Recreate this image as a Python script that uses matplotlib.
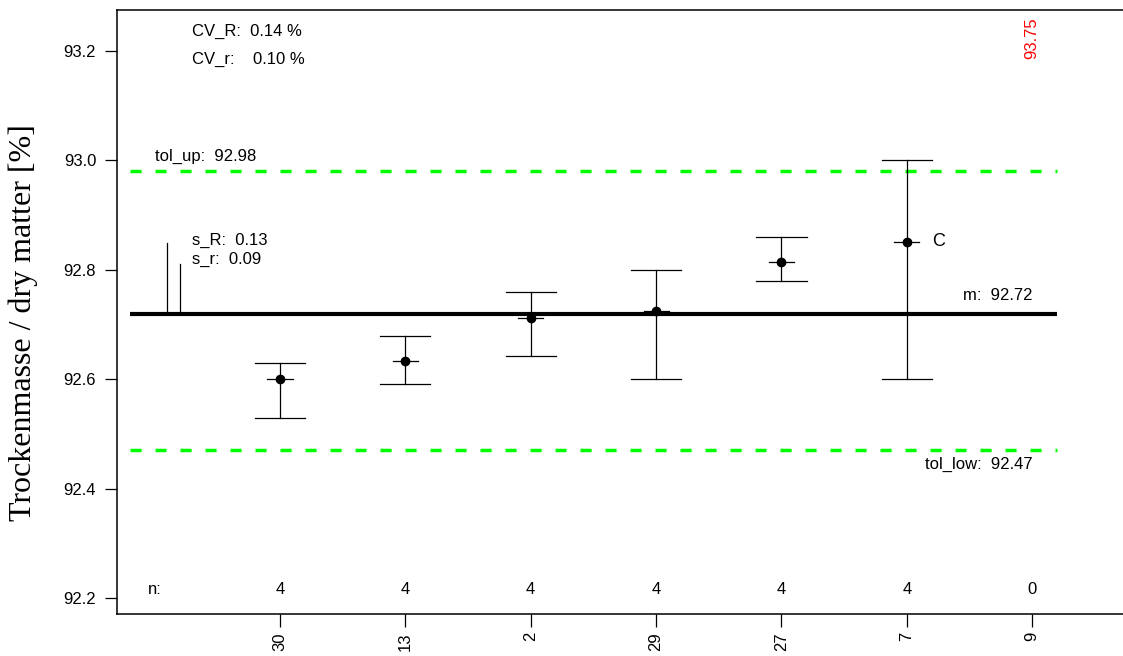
import numpy as np
import matplotlib.pyplot as plt

plt.rcParams['font.family'] = ['Liberation Sans', 'DejaVu Sans']

labs = ['30', '13', '2', '29', '27', '7', '9']
n_vals = [4, 4, 4, 4, 4, 4, 0]
means = [92.600, 92.633, 92.712, 92.725, 92.814, 92.851, np.nan]
lows = [92.53, 92.591, 92.642, 92.60, 92.78, 92.60, np.nan]
highs = [92.63, 92.679, 92.759, 92.80, 92.86, 93.00, np.nan]

m = 92.72
tol_up = 92.98
tol_low = 92.47
s_R = 0.13
s_r = 0.09
cv_R = 0.14
cv_r = 0.10
out_val = 93.75  # lab 9, outside the plot range
flag = 'C'  # lab 7

x = np.arange(1, len(labs) + 1)

fig = plt.figure(figsize=(11.23, 6.56), dpi=100)
ax = fig.add_axes([117 / 1123, 42 / 656, 1013 / 1123, 604 / 656])
ax.set_xlim(-0.30, 7.78)
ax.set_ylim(92.171, 93.275)

# reference lines
ax.plot([-0.2, 7.2], [m, m], color='black', lw=3, solid_capstyle='butt')
for t in (tol_up, tol_low):
    ax.plot([-0.2, 7.2], [t, t], color='#00ff00', lw=2.5, dashes=(3.2, 4.0))

# error bars
for xi, mu, lo, hi in zip(x, means, lows, highs):
    if np.isnan(mu):
        continue
    ax.plot([xi, xi], [lo, hi], color='black', lw=0.9)
    ax.plot([xi - 0.2, xi + 0.2], [lo, lo], color='black', lw=0.9)
    ax.plot([xi - 0.2, xi + 0.2], [hi, hi], color='black', lw=0.9)
    ax.plot([xi - 0.1, xi + 0.1], [mu, mu], color='black', lw=0.9)
    ax.plot(xi, mu, 'o', color='black', ms=6)

# s_R / s_r bars
ax.plot([0.1, 0.1], [m, m + s_R], color='black', lw=0.9)
ax.plot([0.2, 0.2], [m, m + s_r], color='black', lw=0.9)
fs = 12
ax.text(0.3, m + 0.133, f's_R:  {s_R:.2f}', fontsize=fs, va='center')
ax.text(0.3, m + 0.1, f's_r:  {s_r:.2f}', fontsize=fs, va='center')

ax.text(0.3, 93.235, f'CV_R:  {cv_R:.2f} %', fontsize=fs, va='center')
ax.text(0.3, 93.184, f'CV_r:    {cv_r:.2f} %', fontsize=fs, va='center')

ax.text(0.0, tol_up + 0.027, f'tol_up:  {tol_up:.2f}', fontsize=fs, va='center')
ax.text(7.0, tol_low - 0.025, f'tol_low:  {tol_low:.2f}', fontsize=fs, va='center', ha='right')
ax.text(7.0, m + 0.033, f'm:  {m:.2f}', fontsize=fs, va='center', ha='right')

ax.text(x[5] + 0.2, means[5], flag, fontsize=fs + 1, va='center', ha='left')
ax.text(x[6], 93.262, f'{out_val:.2f}', fontsize=fs, color='red', rotation=90,
        va='top', ha='center')

# n row
ax.text(0.0, 92.216, 'n:', fontsize=fs, va='center', ha='center')
for xi, nv in zip(x, n_vals):
    ax.text(xi, 92.216, str(nv), fontsize=fs, va='center', ha='center')

ax.set_xticks(x)
ax.set_xticklabels(labs, rotation=90, fontsize=fs)
ax.set_yticks([92.2, 92.4, 92.6, 92.8, 93.0, 93.2])
ax.set_yticklabels(['92.2', '92.4', '92.6', '92.8', '93.0', '93.2'], fontsize=fs)
ax.tick_params(axis='y', length=9, width=0.9, pad=6)
ax.tick_params(axis='x', length=9, width=0.9, pad=4)
for sp in ax.spines.values():
    sp.set_linewidth(1.1)

ax.set_ylabel('Trockenmasse / dry matter [%]', fontsize=23,
              family=['Liberation Serif', 'DejaVu Serif'])
ax.yaxis.set_label_coords(-0.078, 0.482)

fig.savefig('out.png', dpi=100)
